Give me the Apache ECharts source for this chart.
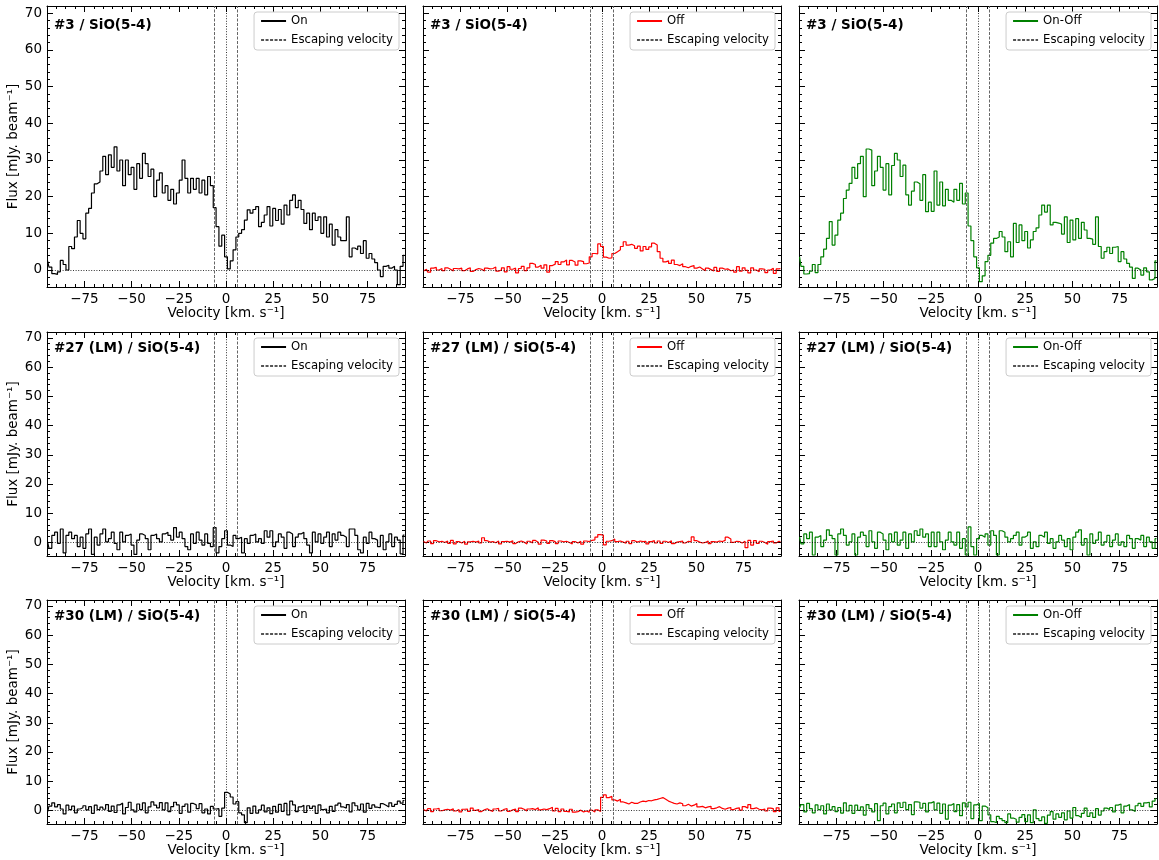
<!DOCTYPE html>
<html><head><meta charset="utf-8">
<script src="https://cdn.jsdelivr.net/npm/echarts@6/dist/echarts.min.js"></script>
<style>html,body{margin:0;padding:0;background:#fff}#c{width:1159px;height:860px}</style>
</head><body><div id="c"></div>
<script>
// velocity grid of the spectra (channel centres, km/s)
const V_START = -94.5, DV = 1.5;
const ESC_V = 6;

const ON_3 = [
2.5,0.8,-1,-1.2,-0.5,2.6,1.5,0,6.4,5.8,
9,13.5,10,8.5,15.5,16.8,21,23.5,24,27,
31,26,31.4,28,33.6,27,30,23,30,26,
28,22,29,25,31.8,29,25.5,27.5,20,24.5,
26.5,21,23,19,22,18,21,24.5,30,25,
21,25,22,25,21,24.5,20.5,25.5,23,17,
11.8,6.5,9.5,3.6,0.3,2.5,5.5,9,10,11,
13.6,16.4,15.5,16.5,17.3,11.8,13,15,17.3,12,
16.8,13.5,16.5,12.5,17.7,15,19,20.5,17,19,
16.5,12.7,15.5,11,15.5,13.5,14.5,10,14.5,9,
12.5,6.8,11,9,8,8,14.5,3.6,6,5.5,
6.5,4.5,8,3.2,4.5,3,2,0,-1.8,1,
1.3,0.5,1,0,-4,1,4];
const OFF_3 = [
-0.3,0.2,-0.6,0.5,0.7,0.0,0.4,-0.2,0.6,0.2,
-0.3,0.4,0.3,0.5,-0.2,0.3,0.6,-0.4,0.1,0.4,
0.2,-0.3,0.5,0.3,0.4,0.8,-0.3,0.0,0.6,-0.5,
0.9,0.2,0.5,-0.8,0.4,1.0,-0.2,0.6,1.8,1.5,
0.8,1.3,0.5,1.4,-0.6,1.2,1.6,2.3,1.5,2.2,
2.7,1.4,2.6,2.2,1.3,2.5,2.3,1.7,1.9,3.6,
4.5,4.4,7.1,6.4,3.5,3.2,3.3,4.5,5.0,5.5,
6.4,7.7,6.8,7.0,6.6,5.9,6.5,5.2,6.4,5.6,
6.3,7.3,6.8,5.0,3.2,2.2,2.5,1.8,2.7,1.5,
1.2,1.7,0.9,0.6,1.0,1.2,0.5,0.8,0.3,-0.2,
0.5,0.1,-0.3,0.7,-0.4,0.5,0.2,0.3,-0.2,0.0,
-0.6,0.9,-0.3,0.6,-0.1,-0.8,0.6,0.0,-0.5,0.3,
0.2,-0.7,0.0,0.5,-0.9,0.3,0.4];
const DIFF_3 = [
3.6,1.0,-1.1,-1.0,-0.3,1.5,-0.7,1.5,3.6,5.7,
8.6,13.2,6.8,9.5,13.6,15.5,19.5,21.8,23.6,28,
25,29,31,20,33,32.7,23,27,31,28,
21.8,29,20.5,28.5,31.8,30,25.5,28.6,20.5,17.7,
21.5,24,23.5,19,26,15.9,18.5,16,27,17.7,
24,17.5,22,19,18.5,22,19,23.6,18,21,
12,8,3.6,0.6,-3.2,-1.6,2.3,4,7.3,8.6,
9,10.5,9,5,7.7,3.6,12.7,7.5,12.3,8,
10.5,6,8.2,10.5,11.5,15,17.7,15.8,17.7,12.3,
13,12.8,12.5,9.8,14.5,7.5,13.6,8.2,14,8.6,
13,10.9,8.6,8.4,7,14.5,6.4,3.2,5,6.2,
4.5,6.2,6.4,2.3,5,3,1.8,0.8,-2.3,0.5,
0,-1.4,0.6,-0.5,-2.7,-2.3,2.5];

const ON_27 = [
0.2,-2.0,2.4,3.5,-0.3,4.6,-3.6,2.4,3.5,1.3,
2.4,-1.4,1.8,-2.0,2.9,4.6,-4.1,1.8,-0.9,2.9,
4.6,0.2,1.3,3.5,-0.3,-2.5,3.5,0.2,2.4,2.9,
-0.9,-4.1,0.8,2.9,2.4,1.3,-2.5,2.4,2.9,1.3,
0.2,2.9,3.5,2.4,0.8,5.1,1.8,3.5,1.3,-1.4,
-2.5,2.9,-0.3,3.5,0.8,-0.9,2.9,-0.3,-1.4,5.1,
-3.6,-1.4,1.3,4.0,-0.9,-1.4,2.4,1.3,1.8,-3.6,
1.3,-0.3,2.4,2.9,0.2,1.3,-0.3,4.0,1.8,4.0,
-1.4,0.2,2.9,1.8,-2.0,3.5,2.9,-1.4,1.8,2.9,
3.5,1.3,-0.9,-3.6,3.5,0.2,2.9,-0.3,1.8,3.5,
-1.4,2.9,0.8,3.5,2.4,1.8,-1.4,4.6,4.6,2.4,
-2.5,-3.6,1.8,-0.3,3.5,1.3,0.8,-1.4,2.4,-2.5,
0.2,2.9,-1.4,1.8,0.8,-3.9,2.5];
const OFF_27 = [
0.3,-0.2,0.5,-0.4,0.6,0.2,0.4,0.0,0.5,-0.3,
0.7,-0.5,0.3,-0.2,0.4,-0.6,0.2,0.4,0.1,0.5,
-0.2,1.6,0.6,0.1,0.3,-0.1,0.5,-0.5,0.3,0.4,
0.1,0.6,-0.4,0.2,0.5,0.1,-0.5,0.4,-0.2,0.7,
0.1,-0.6,0.8,0.5,-0.3,0.6,0.3,-0.4,0.5,0.2,
0.4,0.0,-0.5,0.3,-0.2,0.4,-0.6,0.5,0.3,0.7,
0.9,1.8,2.7,2.5,-0.8,0.4,0.6,1.2,0.3,0.5,
0.1,-0.3,0.4,-0.4,0.6,0.1,0.5,0.3,0.4,-0.5,
0.3,0.6,-0.2,0.5,-0.3,0.4,0.0,0.6,-0.4,0.1,
0.3,0.5,-0.2,0.4,0.2,1.9,0.6,0.1,-0.2,0.0,
0.5,-0.4,0.3,0.1,0.5,0.3,0.7,1.8,1.2,0.0,
0.4,0.3,-0.2,0.4,-1.8,0.7,-0.9,0.6,-0.3,0.4,
0.0,-0.6,0.3,0.5,-0.2,0.4,0.2];
const DIFF_27 = [
1.8,-0.5,2.9,1.3,3.5,-4.3,1.8,2.4,-1.4,0.8,
4.3,2.4,1.3,-4.3,2.9,4.6,2.4,-0.9,0.2,2.9,
-4.3,1.8,3.5,2.4,-1.4,4.0,0.2,-2.0,3.5,2.9,
0.8,-2.5,2.9,0.2,3.5,-0.9,0.8,3.5,-2.0,2.9,
0.2,4.0,2.4,4.6,1.8,2.9,-1.4,3.5,-1.4,3.5,
0.2,-2.5,0.8,3.5,0.2,-0.9,3.5,-2.0,1.3,-4.3,
5.3,-1.4,-4.3,1.3,2.4,1.8,2.9,-0.9,4.0,2.4,
-4.3,4.0,3.5,1.8,0.2,1.3,2.4,3.5,-0.9,1.8,
2.4,3.5,-2.0,0.2,-1.4,2.4,1.8,3.5,-0.3,1.3,
-2.0,0.2,2.4,0.8,-1.4,1.3,-2.5,1.8,3.5,4.3,
-0.9,1.3,-4.3,2.9,-0.3,0.8,3.5,-0.9,0.2,2.4,
-1.4,0.8,2.9,-0.9,0.2,-1.4,2.4,1.3,-2.0,1.3,
0.8,2.4,-1.4,1.8,0.2,-2.0,1.3];

const ON_30 = [
-0.5,1.5,2.6,1.2,2.0,0.5,-1.2,1.8,0.3,1.5,
-0.8,0.5,0.9,1.6,0.2,1.3,-1.0,1.8,0.3,1.1,
0.4,2.0,-0.3,1.5,-0.7,1.9,2.5,-1.2,1.0,2.8,
0.2,-0.5,2.2,0.3,2.6,-0.8,1.2,2.9,1.8,0.9,
2.7,0.2,2.6,-0.4,1.3,2.8,1.9,-1.0,1.4,2.2,
-0.6,2.4,1.9,0.6,2.3,-0.8,0.5,-1.2,1.4,0.5,
0.6,-2.0,0.8,6.2,5.6,4.6,2.2,3.0,-0.8,-1.5,
-4.2,0.9,-1.0,1.5,-0.9,0.2,1.8,-0.5,0.9,-1.1,
1.4,-0.6,2.1,-0.3,2.4,-1.5,3.2,1.9,-0.4,1.2,
1.8,-0.7,1.6,0.7,1.5,-1.0,1.9,0.3,0.5,-0.8,
1.4,-0.3,1.8,2.5,1.2,0.8,2.0,-0.5,2.6,1.6,
0.2,2.2,-0.6,2.4,0.7,1.9,1.1,0.9,2.3,1.8,
1.2,2.6,1.4,2.1,3.2,2.5,3.4];
const OFF_30 = [
0.3,-0.2,0.6,-0.4,0.5,0.7,-0.1,0.2,0.4,0.1,
0.6,-0.2,0.3,-0.5,0.4,0.5,-0.3,0.8,0.0,0.3,
-0.4,0.2,0.6,0.0,-0.3,0.5,0.7,-0.2,0.4,0.6,
-0.3,0.2,0.5,-0.4,0.8,0.4,-0.2,0.5,0.6,0.3,
0.9,0.2,0.5,0.3,0.6,1.1,-0.2,0.7,-0.4,0.5,
-0.3,-0.5,0.4,-0.6,-0.4,0.1,-0.5,-0.2,-0.6,0.1,
-0.5,0.2,-0.4,4.5,5.3,4.4,4.8,3.6,3.2,3.8,
2.9,2.6,2.2,2.8,2.4,2.4,2.9,3.2,3.0,3.4,
3.3,3.6,3.8,4.1,4.4,3.8,3.2,2.8,2.4,2.2,
2.6,2.3,1.6,2.1,1.5,1.8,2.4,1.2,1.4,0.9,
1.2,1.4,0.6,0.9,1.3,0.7,0.4,0.8,1.0,0.3,
0.7,0.9,0.1,1.3,0.8,2.0,0.6,0.9,0.4,0.2,
0.5,-0.2,0.8,0.6,-0.4,0.9,-0.3];
const DIFF_30 = [
0.8,2.0,-0.5,2.4,0.6,-0.8,1.9,0.3,1.6,-1.2,
2.2,0.2,1.3,-0.4,1.0,-0.9,2.6,-0.2,1.7,-1.0,
1.8,0.0,1.2,-1.6,2.0,0.6,-0.5,2.3,-3.5,1.6,
2.5,-1.2,1.3,2.2,-0.8,2.6,1.0,2.8,0.3,2.0,
-1.4,2.9,2.8,0.8,2.4,-0.5,2.6,3.0,0.2,2.5,
-1.0,2.2,-3.0,1.8,2.4,-0.4,2.0,-1.8,2.6,1.2,
2.8,-2.8,1.9,2.4,-3.5,1.5,0.9,-1.5,-3.8,-4.2,
-2.0,-2.8,-3.5,-4.2,-1.2,-2.6,-3.0,-4.0,-2.4,-1.4,
-3.8,-1.5,-4.2,0.2,-2.8,-3.5,-2.2,-4.4,-1.6,-0.4,
-3.0,-1.2,-2.4,-0.8,-3.2,-0.2,-2.6,1.0,-1.8,-2.4,
-1.0,0.8,-2.0,-0.8,-2.4,0.6,-1.6,-0.2,0.8,0.3,
1.0,-0.5,1.8,2.2,-0.8,1.5,2.0,0.2,-0.4,1.6,
2.4,1.4,2.6,2.8,1.2,3.2,4.0];

const SOURCES = ['#3 / SiO(5-4)', '#27 (LM) / SiO(5-4)', '#30 (LM) / SiO(5-4)'];
const KINDS = ['On', 'Off', 'On-Off'];
const ESC_NAME = 'Escaping velocity';
const X_MAJOR = [-75, -50, -25, 0, 25, 50, 75];
const Y_MAJOR = [0, 10, 20, 30, 40, 50, 60, 70];
const SPECTRA = [[ON_3, OFF_3, DIFF_3], [ON_27, OFF_27, DIFF_27], [ON_30, OFF_30, DIFF_30]];

// minor tick positions
const X_MINOR = [], Y_MINOR = [];
for (let v = -90; v <= 90; v += 5) if (v % 25 !== 0) X_MINOR.push(v);
for (let v = -4; v <= 70; v += 2) if (v % 10 !== 0) Y_MINOR.push(v);

// layout / styles
const W = 1159;
const COL_LEFT = [47, 423, 799], COL_W = 358;
const ROW_TOP = [6, 332, 600], ROW_H = [281, 224, 224];
const X_MIN = -94.8, X_MAX = 94.8, Y_MIN = -4.64, Y_MAX = 72;
const COLORS = ['#000000', '#ff0000', '#008000'];
const FONT = 'DejaVu Sans';
const fmt = v => (v < 0 ? '\u2212' + Math.abs(v) : String(v));

const grids = [], xAxes = [], yAxes = [], series = [], titles = [], legends = [];
for (let r = 0; r < 3; r++) {
  for (let c = 0; c < 3; c++) {
    const g = r * 3 + c;
    grids.push({ left: COL_LEFT[c], top: ROW_TOP[r], width: COL_W, height: ROW_H[r] });
    const axLine = { show: true, onZero: false, lineStyle: { color: '#000', width: 1 } };
    const noLine = { show: false, onZero: false };
    const tick = (vals, len) => ({ show: true, inside: true, length: len, customValues: vals, lineStyle: { color: '#000', width: 1 } });
    const xb = { gridIndex: g, type: 'value', min: X_MIN, max: X_MAX, splitLine: { show: false } };
    xAxes.push(Object.assign({}, xb, {
      position: 'bottom', axisLine: axLine, axisTick: tick(X_MAJOR, 6),
      axisLabel: { show: true, customValues: X_MAJOR, formatter: fmt, fontSize: 13.5, color: '#000', fontFamily: FONT, margin: 5 },
      name: 'Velocity [km. s\u207B\u00B9]', nameLocation: 'middle', nameGap: 17,
      nameTextStyle: { fontSize: 13.5, color: '#000', fontFamily: FONT, verticalAlign: 'top' }
    }));
    xAxes.push(Object.assign({}, xb, { position: 'bottom', axisLine: noLine, axisTick: tick(X_MINOR, 3), axisLabel: { show: false } }));
    xAxes.push(Object.assign({}, xb, { position: 'top', axisLine: axLine, axisTick: tick(X_MAJOR, 6), axisLabel: { show: false } }));
    xAxes.push(Object.assign({}, xb, { position: 'top', axisLine: noLine, axisTick: tick(X_MINOR, 3), axisLabel: { show: false } }));

    const yb = { gridIndex: g, type: 'value', min: Y_MIN, max: Y_MAX, splitLine: { show: false } };
    const yMain = Object.assign({}, yb, {
      position: 'left', axisLine: axLine, axisTick: tick(Y_MAJOR, 6),
      axisLabel: { show: c === 0, customValues: Y_MAJOR, fontSize: 13.5, color: '#000', fontFamily: FONT, margin: 5 }
    });
    if (c === 0) {
      yMain.name = 'Flux [mJy. beam\u207B\u00B9]';
      yMain.nameLocation = 'middle';
      yMain.nameGap = 20;
      yMain.nameTextStyle = { fontSize: 13.5, color: '#000', fontFamily: FONT };
    }
    yAxes.push(yMain);
    yAxes.push(Object.assign({}, yb, { position: 'left', axisLine: noLine, axisTick: tick(Y_MINOR, 3), axisLabel: { show: false } }));
    yAxes.push(Object.assign({}, yb, { position: 'right', axisLine: axLine, axisTick: tick(Y_MAJOR, 6), axisLabel: { show: false } }));
    yAxes.push(Object.assign({}, yb, { position: 'right', axisLine: noLine, axisTick: tick(Y_MINOR, 3), axisLabel: { show: false } }));

    const arr = SPECTRA[r][c];
    series.push({
      name: KINDS[c], type: 'line', xAxisIndex: 4 * g, yAxisIndex: 4 * g,
      data: arr.map((f, i) => [+(V_START + i * DV).toFixed(3), f]),
      step: 'middle', symbol: 'none', showSymbol: false, clip: true,
      lineStyle: { color: COLORS[c], width: 1.2 }, itemStyle: { color: COLORS[c] },
      z: 3,
      markLine: {
        silent: true, symbol: ['none', 'none'], label: { show: false }, animation: false,
        lineStyle: { color: '#000', width: 0.8, type: [1, 1.6] },
        data: [{ yAxis: 0 }, { xAxis: 0 }]
      }
    });
    series.push({
      name: ESC_NAME, type: 'line', xAxisIndex: 4 * g, yAxisIndex: 4 * g,
      data: [], symbol: 'none', showSymbol: false,
      lineStyle: { color: '#555', width: 0.9, type: [3, 1.5] }, itemStyle: { color: '#555' },
      markLine: {
        silent: true, symbol: ['none', 'none'], label: { show: false }, animation: false,
        lineStyle: { color: '#555', width: 0.9, type: [3, 1.5] },
        data: [{ xAxis: -ESC_V }, { xAxis: ESC_V }]
      }
    });

    titles.push({
      text: SOURCES[r], left: COL_LEFT[c] + 7, top: ROW_TOP[r] + 0.05 * ROW_H[r] - 2, padding: 0,
      textStyle: { fontSize: 13.5, fontWeight: 'bold', fontFamily: FONT, color: '#000' }
    });
    legends.push({
      data: [KINDS[c], ESC_NAME], orient: 'vertical', selectedMode: false,
      top: ROW_TOP[r] + 6, right: W - (COL_LEFT[c] + COL_W - 6),
      itemWidth: 25, itemHeight: 12, itemGap: 7, padding: [3, 6, 4, 6],
      itemStyle: { opacity: 0, borderWidth: 0 },
      borderColor: '#cccccc', borderWidth: 1, borderRadius: 3, backgroundColor: 'rgba(255,255,255,0.8)',
      textStyle: { fontSize: 11.7, fontFamily: FONT, color: '#000' }
    });
  }
}

const chart = echarts.init(document.getElementById('c'), null, { renderer: 'canvas' });
chart.setOption({
  animation: false,
  backgroundColor: '#ffffff',
  textStyle: { fontFamily: FONT },
  title: titles, legend: legends, grid: grids, xAxis: xAxes, yAxis: yAxes, series: series
});
</script>
</body></html>
